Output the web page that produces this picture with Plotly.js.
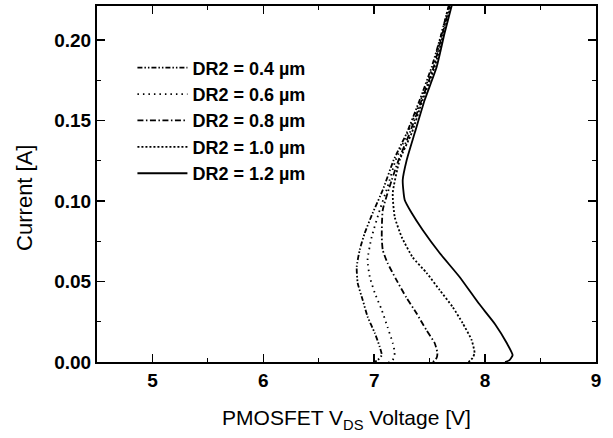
<!DOCTYPE html>
<html>
<head>
<meta charset="utf-8">
<script src="https://cdn.plot.ly/plotly-3.0.1.min.js"></script>
<style>html,body{margin:0;padding:0;background:#fff;}#chart{width:613px;height:438px;}</style>
</head>
<body>
<div id="chart"></div>
<script>
// Series names
var seriesNames = ["DR2 = 0.4 \u00b5m", "DR2 = 0.6 \u00b5m", "DR2 = 0.8 \u00b5m", "DR2 = 1.0 \u00b5m", "DR2 = 1.2 \u00b5m"];

// DR2 = 0.4 um  (V_DS [V], current [A])
var v04 = [7.70, 7.671, 7.608, 7.518, 7.41, 7.293, 7.176, 7.077, 6.986, 6.914, 6.869, 6.842, 6.851, 6.896, 6.941, 7.005, 7.05, 7.068, 7.032, 7.00];
var i04 = [0.23, 0.2211, 0.2043, 0.1832, 0.1627, 0.1422, 0.1255, 0.1068, 0.0925, 0.080, 0.0696, 0.059, 0.049, 0.0385, 0.028, 0.018, 0.0093, 0.0043, 0.0012, 0.0];

// DR2 = 0.6 um
var v06 = [7.70, 7.671, 7.608, 7.527, 7.419, 7.302, 7.194, 7.12, 7.05, 6.977, 6.94, 6.96, 7.005, 7.068, 7.12, 7.167, 7.185, 7.167, 7.13];
var i06 = [0.23, 0.2211, 0.2043, 0.1832, 0.1627, 0.1422, 0.1255, 0.1087, 0.0944, 0.0776, 0.0634, 0.0528, 0.0429, 0.0323, 0.0217, 0.0118, 0.0056, 0.0012, 0.0];

// DR2 = 0.8 um
var v08 = [7.71, 7.68, 7.617, 7.536, 7.428, 7.32, 7.22, 7.158, 7.077, 7.068, 7.077, 7.12, 7.20, 7.29, 7.38, 7.47, 7.545, 7.57, 7.563, 7.53];
var i08 = [0.23, 0.2211, 0.2043, 0.1832, 0.1627, 0.1422, 0.1255, 0.113, 0.0944, 0.0776, 0.0696, 0.0615, 0.051, 0.040, 0.0304, 0.0199, 0.0118, 0.0056, 0.0025, 0.0];

// DR2 = 1.0 um
var v10 = [7.72, 7.689, 7.626, 7.545, 7.437, 7.338, 7.23, 7.167, 7.185, 7.248, 7.347, 7.473, 7.59, 7.707, 7.797, 7.878, 7.905, 7.887, 7.85];
var i10 = [0.23, 0.2211, 0.2043, 0.1832, 0.1627, 0.1422, 0.1255, 0.105, 0.090, 0.0776, 0.065, 0.0553, 0.0447, 0.0342, 0.0242, 0.0137, 0.0056, 0.0025, 0.0];

// DR2 = 1.2 um
var v12 = [7.73, 7.698, 7.635, 7.563, 7.455, 7.365, 7.293, 7.257, 7.275, 7.338, 7.437, 7.59, 7.77, 7.94, 8.09, 8.195, 8.248, 8.22, 8.18];
var i12 = [0.23, 0.2211, 0.2043, 0.1832, 0.1627, 0.1422, 0.1255, 0.113, 0.1006, 0.0925, 0.082, 0.0677, 0.0528, 0.0366, 0.0235, 0.0118, 0.0043, 0.0012, 0.0];

var xVals = [v04, v06, v08, v10, v12];
var yVals = [i04, i06, i08, i10, i12];
var dashes = ["5px,2px,1.5px,2px,1.5px,2px", "1.5px,4px", "6px,2.5px,1.5px,2.5px", "2px,2px", "solid"];

var traces = [];
for (var k = 0; k < 5; k++) {
  traces.push({
    x: xVals[k], y: yVals[k], name: seriesNames[k],
    type: "scatter", mode: "lines",
    line: {color: "#000", width: 1.8, dash: dashes[k], shape: "spline", smoothing: 0.5}
  });
}

var fam = "Liberation Sans, Arial, sans-serif";

var layout = {
  width: 613, height: 438,
  margin: {l: 97, r: 17, t: 6, b: 76},
  paper_bgcolor: "#fff", plot_bgcolor: "#fff",
  font: {family: fam, color: "#000", size: 19},
  showlegend: true,
  legend: {x: 0.071, y: 0.878, xanchor: "left", yanchor: "top", bgcolor: "rgba(0,0,0,0)", itemwidth: 50,
           font: {family: fam, size: 18, color: "#000", weight: "bold"}, tracegroupgap: 0},
  xaxis: {
    range: [4.5, 9], dtick: 1, tick0: 5, ticks: "inside", ticklen: 8, tickwidth: 1.5, tickcolor: "#000",
    showline: true, linecolor: "#000", linewidth: 2, mirror: "ticks", showgrid: false, zeroline: false,
    tickfont: {family: fam, size: 19, color: "#000", weight: "bold"},
    minor: {dtick: 0.5, ticks: "inside", ticklen: 4, tickwidth: 1.2, tickcolor: "#000", showgrid: false},
    title: {text: "PMOSFET V<sub>DS</sub> Voltage [V]", standoff: 21, font: {family: fam, size: 21, color: "#000"}}
  },
  yaxis: {
    range: [0, 0.2211], dtick: 0.05, tick0: 0, tickformat: ".2f", ticks: "inside", ticklen: 8, tickwidth: 1.5, tickcolor: "#000",
    showline: true, linecolor: "#000", linewidth: 2, mirror: "ticks", showgrid: false, zeroline: false,
    tickfont: {family: fam, size: 19, color: "#000", weight: "bold"},
    minor: {dtick: 0.025, ticks: "inside", ticklen: 4, tickwidth: 1.2, tickcolor: "#000", showgrid: false}
  },
  annotations: [{
    text: "Current [A]", textangle: -90, xref: "paper", yref: "paper",
    x: -0.145, y: 0.46, xanchor: "center", yanchor: "middle", showarrow: false,
    font: {family: fam, size: 22, color: "#000"}
  }]
};

Plotly.newPlot("chart", traces, layout, {displayModeBar: false, staticPlot: true});
</script>
</body>
</html>
